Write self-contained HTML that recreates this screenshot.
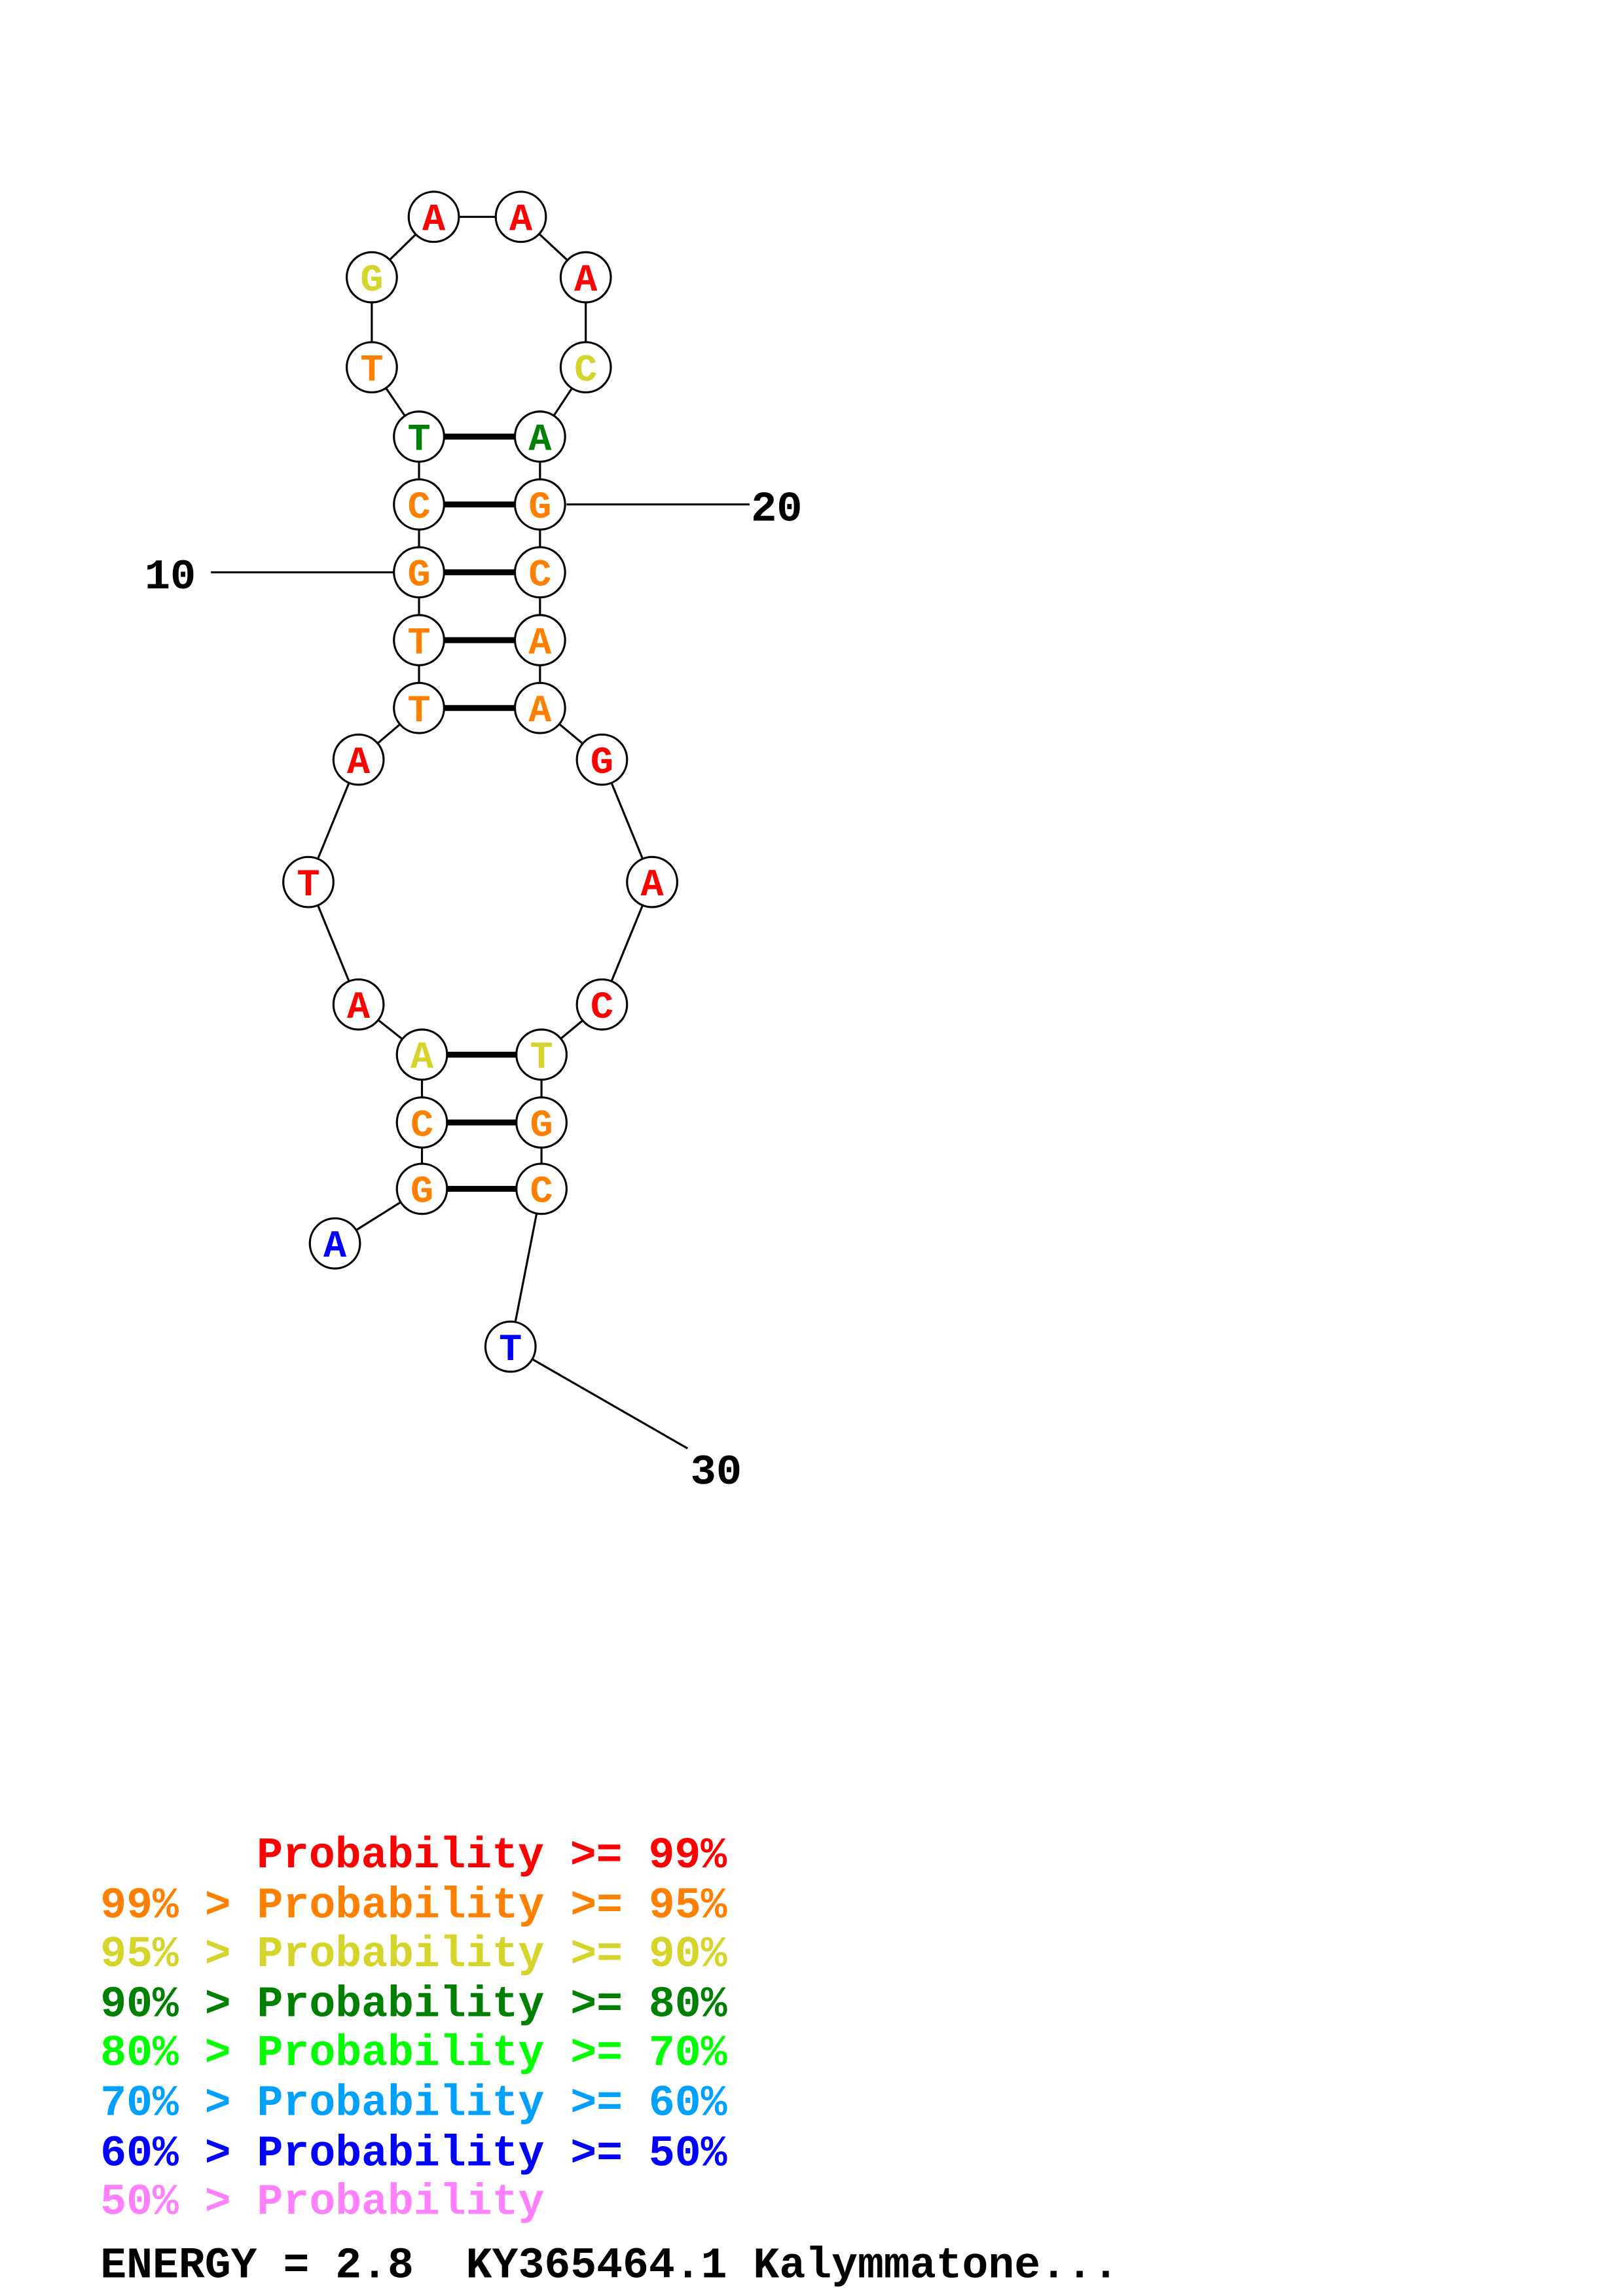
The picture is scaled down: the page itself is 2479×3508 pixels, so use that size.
<!DOCTYPE html>
<html><head><meta charset="utf-8"><style>
html,body{margin:0;padding:0;background:#fff;}
svg{display:block;}
text{font-family:"Liberation Mono",monospace;font-weight:bold;white-space:pre;}
</style></head><body>
<svg width="2479" height="3508" viewBox="0 0 2479 3508" xmlns="http://www.w3.org/2000/svg">
<rect width="2479" height="3508" fill="#fff"/>
<g transform="scale(2.2536)">
<g stroke="#000" stroke-width="1.4" fill="none">
<polyline points="227,843 286,806 286,761 286,715 243,681 209,598 243,515 284,480 284,434 284,388 284,342 284,296 252,249 252,188 294,147 353,147 397,188 397,249 366,296 366,342 366,388 366,434 366,480 408,515 442,598 408,681 367,715 367,761 367,806 346,913"/>
<line x1="143" y1="388" x2="268" y2="388"/>
<line x1="384" y1="342" x2="508" y2="342"/>
<line x1="346" y1="913" x2="466" y2="982"/>
</g>
<g stroke="#000" stroke-width="4">
<line x1="284" y1="296" x2="366" y2="296"/>
<line x1="284" y1="342" x2="366" y2="342"/>
<line x1="284" y1="388" x2="366" y2="388"/>
<line x1="284" y1="434" x2="366" y2="434"/>
<line x1="284" y1="480" x2="366" y2="480"/>
<line x1="286" y1="715" x2="367" y2="715"/>
<line x1="286" y1="761" x2="367" y2="761"/>
<line x1="286" y1="806" x2="367" y2="806"/>
</g>
<g stroke="#000" stroke-width="1.4" fill="#fff">
<circle cx="227" cy="843" r="17"/><circle cx="286" cy="806" r="17"/><circle cx="286" cy="761" r="17"/><circle cx="286" cy="715" r="17"/>
<circle cx="243" cy="681" r="17"/><circle cx="209" cy="598" r="17"/><circle cx="243" cy="515" r="17"/>
<circle cx="284" cy="480" r="17"/><circle cx="284" cy="434" r="17"/><circle cx="284" cy="388" r="17"/><circle cx="284" cy="342" r="17"/><circle cx="284" cy="296" r="17"/>
<circle cx="252" cy="249" r="17"/><circle cx="252" cy="188" r="17"/><circle cx="294" cy="147" r="17"/><circle cx="353" cy="147" r="17"/>
<circle cx="397" cy="188" r="17"/><circle cx="397" cy="249" r="17"/>
<circle cx="366" cy="296" r="17"/><circle cx="366" cy="342" r="17"/><circle cx="366" cy="388" r="17"/><circle cx="366" cy="434" r="17"/><circle cx="366" cy="480" r="17"/>
<circle cx="408" cy="515" r="17"/><circle cx="442" cy="598" r="17"/><circle cx="408" cy="681" r="17"/>
<circle cx="367" cy="715" r="17"/><circle cx="367" cy="761" r="17"/><circle cx="367" cy="806" r="17"/><circle cx="346" cy="913" r="17"/>
</g>
<g font-size="26" text-anchor="middle">
<text x="227" y="852" fill="#0000ff">A</text>
<text x="286" y="815" fill="#ff8000">G</text>
<text x="286" y="770" fill="#ff8000">C</text>
<text x="286" y="724" fill="#d4d42a">A</text>
<text x="243" y="690" fill="#ff0000">A</text>
<text x="209" y="607" fill="#ff0000">T</text>
<text x="243" y="524" fill="#ff0000">A</text>
<text x="284" y="489" fill="#ff8000">T</text>
<text x="284" y="443" fill="#ff8000">T</text>
<text x="284" y="397" fill="#ff8000">G</text>
<text x="284" y="351" fill="#ff8000">C</text>
<text x="284" y="305" fill="#008000">T</text>
<text x="252" y="258" fill="#ff8000">T</text>
<text x="252" y="197" fill="#d4d42a">G</text>
<text x="294" y="156" fill="#ff0000">A</text>
<text x="353" y="156" fill="#ff0000">A</text>
<text x="397" y="197" fill="#ff0000">A</text>
<text x="397" y="258" fill="#d4d42a">C</text>
<text x="366" y="305" fill="#008000">A</text>
<text x="366" y="351" fill="#ff8000">G</text>
<text x="366" y="397" fill="#ff8000">C</text>
<text x="366" y="443" fill="#ff8000">A</text>
<text x="366" y="489" fill="#ff8000">A</text>
<text x="408" y="524" fill="#ff0000">G</text>
<text x="442" y="607" fill="#ff0000">A</text>
<text x="408" y="690" fill="#ff0000">C</text>
<text x="367" y="724" fill="#d4d42a">T</text>
<text x="367" y="770" fill="#ff8000">G</text>
<text x="367" y="815" fill="#ff8000">C</text>
<text x="346" y="922" fill="#0000ff">T</text>
</g>
<g font-size="29" fill="#000">
<text x="98" y="399">10</text>
<text x="509" y="353">20</text>
<text x="468" y="1006">30</text>
</g>
<g font-size="29.5">
<text x="174" y="1266" fill="#ff0000">Probability &gt;= 99%</text>
<text x="68" y="1300" fill="#ff8000">99% &gt; Probability &gt;= 95%</text>
<text x="68" y="1333" fill="#d4d42a">95% &gt; Probability &gt;= 90%</text>
<text x="68" y="1367" fill="#008000">90% &gt; Probability &gt;= 80%</text>
<text x="68" y="1400" fill="#00ff00">80% &gt; Probability &gt;= 70%</text>
<text x="68" y="1434" fill="#00a0ff">70% &gt; Probability &gt;= 60%</text>
<text x="68" y="1468" fill="#0000ff">60% &gt; Probability &gt;= 50%</text>
<text x="68" y="1501" fill="#ff80ff">50% &gt; Probability</text>
<text x="68" y="1544" fill="#000">ENERGY = 2.8  KY365464.1 Kalymmatone...</text>
</g>
</g>
</svg>
</body></html>
